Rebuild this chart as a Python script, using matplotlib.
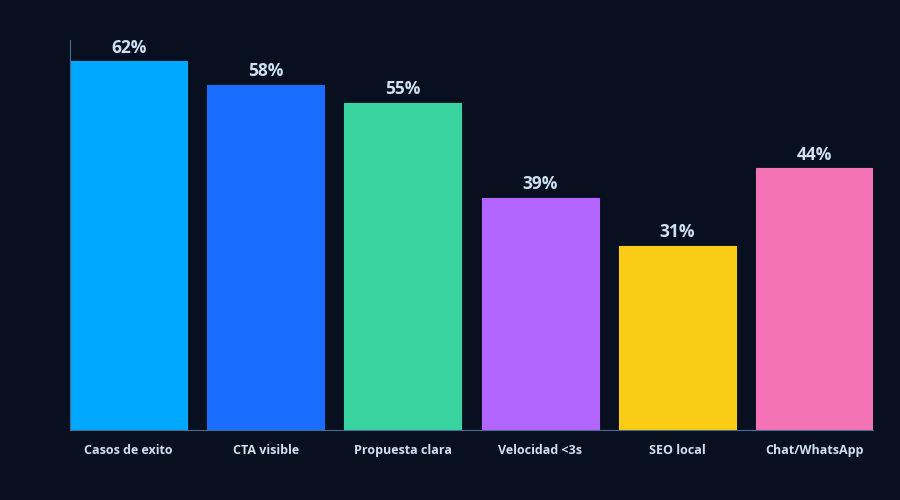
import matplotlib
matplotlib.use('Agg')
import matplotlib.pyplot as plt

categories = ['Casos de exito', 'CTA visible', 'Propuesta clara', 'Velocidad <3s', 'SEO local', 'Chat/WhatsApp']
values = [62, 58, 55, 39, 31, 44]
colors = ['#00a8ff', '#1a6dff', '#38d39f', '#b366ff', '#facc15', '#f472b6']

bg = '#081020'
text_color = '#cfe0f5'

plt.rcParams['font.family'] = ['Open Sans', 'DejaVu Sans']

fig = plt.figure(figsize=(9, 5), dpi=100, facecolor=bg)
ax = fig.add_axes([70 / 900, 70 / 500, 803 / 900, 390 / 500])
ax.set_facecolor(bg)

x = list(range(len(categories)))
bars = ax.bar(x, values, width=0.854, color=colors, edgecolor=colors, linewidth=0.8)

# value labels above bars
for b, v in zip(bars, values):
    ax.text(b.get_x() + b.get_width() / 2, v + 0.8, f'{v}%',
            ha='center', va='bottom', color=text_color,
            fontsize=12.5, fontweight='bold')

ax.set_xlim(-0.427, len(categories) - 1 + 0.427)
ax.set_ylim(0, 65.6)
ax.set_xticks(x)
ax.set_xticklabels(categories, color=text_color, fontsize=9, fontweight='bold')
ax.set_yticks([])
ax.tick_params(axis='x', length=0, pad=10)

for side in ['top', 'right']:
    ax.spines[side].set_visible(False)
for side in ['left', 'bottom']:
    ax.spines[side].set_color('#4a6a90')
    ax.spines[side].set_linewidth(0.8)

fig.savefig('out.png', dpi=100, facecolor=bg)
